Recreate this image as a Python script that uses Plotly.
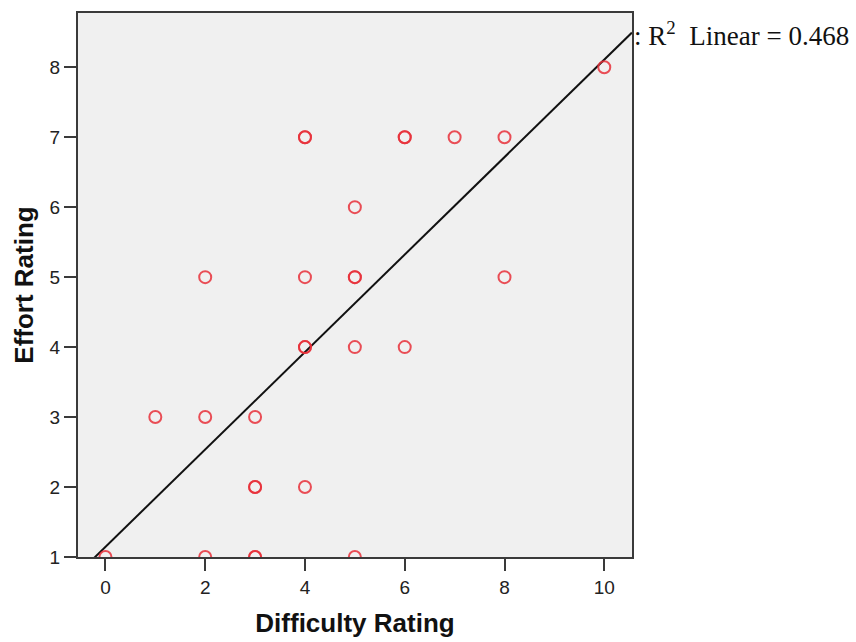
import numpy as np
import plotly.graph_objects as go

# Difficulty vs effort ratings (one entry per respondent)
difficulty = [0, 2, 3, 3, 5, 3, 3, 4, 1, 2, 3, 4, 4, 5, 6, 2, 4, 5, 5, 8, 5, 4, 4, 6, 6, 7, 8, 10]
effort = [1, 1, 1, 1, 1, 2, 2, 2, 3, 3, 3, 4, 4, 4, 4, 5, 5, 5, 5, 5, 6, 7, 7, 7, 7, 7, 7, 8]
x_ticks = [0, 2, 4, 6, 8, 10]
y_ticks = [1, 2, 3, 4, 5, 6, 7, 8]
r2_label = ": R<sup>2</sup>&nbsp;&nbsp;Linear = 0.468"

x_range = [-0.55, 10.556]
y_range = [1.0, 8.775]

# Least-squares fit line across the x range
slope, intercept = np.polyfit(difficulty, effort, 1)
fit_x = np.array(x_range)
fit_y = intercept + slope * fit_x

fig = go.Figure()
fig.add_trace(go.Scatter(
    x=fit_x, y=fit_y, mode="lines",
    line=dict(color="#111111", width=2), showlegend=False, hoverinfo="skip",
))
fig.add_trace(go.Scatter(
    x=difficulty, y=effort, mode="markers",
    marker=dict(symbol="circle-open", size=12, color="#E8303A",
                line=dict(width=2, color="#E8303A"), opacity=0.85),
    showlegend=False,
))

axis_common = dict(
    showline=True, mirror=True, linecolor="#3a3a3a", linewidth=2,
    ticks="outside", ticklen=12, tickwidth=2, tickcolor="#3a3a3a",
    showgrid=False, zeroline=False, automargin=False,
    tickfont=dict(family="Arial, Liberation Sans", size=19, color="#222222"),
)
title_font = dict(family="Arial, Liberation Sans", size=26, color="#111111")

fig.update_layout(
    width=856, height=642,
    margin=dict(l=78, r=224, t=13, b=85),
    paper_bgcolor="white", plot_bgcolor="#F0F0F0",
    xaxis=dict(range=x_range, tickvals=x_ticks, ticklabelstandoff=0,
               title=dict(text="<b>Difficulty Rating</b>", standoff=17, font=title_font),
               **axis_common),
    yaxis=dict(range=y_range, tickvals=y_ticks, ticklabelstandoff=0,
               title=dict(text="<b>Effort Rating</b>", standoff=9, font=title_font),
               **axis_common),
    annotations=[dict(
        text=r2_label, xref="paper", yref="paper", x=1.0, y=1.0,
        xanchor="left", yanchor="top", xshift=0, yshift=-2, showarrow=False,
        font=dict(family="Liberation Serif, Times New Roman", size=27, color="#111111"),
    )],
)

fig.write_html("out.html")
